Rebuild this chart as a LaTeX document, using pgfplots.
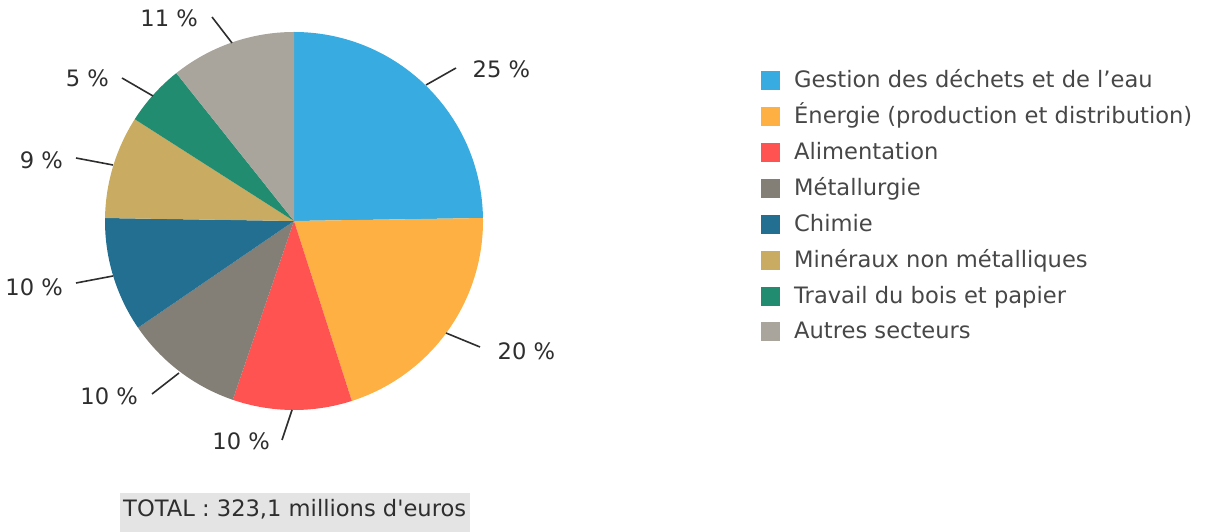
\documentclass[border=0pt]{standalone}
\usepackage{fontspec}
\newfontfamily\dv{DejaVu Sans}
\usepackage{pgfplots}
\pgfplotsset{compat=1.18}
\usepackage{pgfplotstable}

\definecolor{cA}{HTML}{38ABE0}
\definecolor{cB}{HTML}{FFB043}
\definecolor{cC}{HTML}{FF5352}
\definecolor{cD}{HTML}{847F76}
\definecolor{cE}{HTML}{226F92}
\definecolor{cF}{HTML}{C9AC62}
\definecolor{cG}{HTML}{218C70}
\definecolor{cH}{HTML}{A9A49C}
\definecolor{txt}{HTML}{2E2E2E}
\definecolor{legtxt}{HTML}{474747}
\definecolor{totalbg}{HTML}{E4E4E4}

\newcommand\lbl{\dv\fontsize{22.6}{27}\selectfont}

% share of each sector (percent), clockwise from the top
\pgfplotstableread[col sep=semicolon]{
val;col;name
24.75;cA;Gestion des déchets et de l’eau
20.3;cB;Énergie (production et distribution)
10.2;cC;Alimentation
10.2;cD;Métallurgie
9.8;cE;Chimie
8.8;cF;Minéraux non métalliques
5.25;cG;Travail du bois et papier
10.7;cH;Autres secteurs
}\pietable

\begin{document}
\begin{tikzpicture}
\begin{axis}[
    width=1209pt, height=532pt, scale only axis,
    xmin=0, xmax=1209, ymin=0, ymax=532,
    hide axis, clip=false,
]
\path (axis cs:0,0) rectangle (axis cs:1209,532);

% slices + legend
\def\angA{90}
\pgfplotstablegetrowsof{\pietable}
\pgfmathtruncatemacro\nlast{\pgfplotsretval-1}
\pgfplotsforeachungrouped \i in {0,...,\nlast}{%
  \pgfplotstablegetelem{\i}{val}\of\pietable \let\slval\pgfplotsretval
  \pgfplotstablegetelem{\i}{col}\of\pietable \let\slcol\pgfplotsretval
  \pgfplotstablegetelem{\i}{name}\of\pietable \let\slname\pgfplotsretval
  \pgfmathsetmacro\angB{\angA-3.6*\slval}
  \pgfmathsetmacro\ly{451-35.85*\i}
  \pgfmathsetmacro\lyA{\ly-9.5}
  \pgfmathsetmacro\lyB{\ly+9.5}
  \pgfmathsetmacro\lb{\ly-7}
  \edef\temp{%
    \noexpand\fill[\slcol] (axis cs:294,311) -- ++(\angA:189pt)
      arc[start angle=\angA, end angle=\angB, radius=189pt] -- cycle;
    \noexpand\fill[\slcol] (axis cs:761,\lyA) rectangle (axis cs:780,\lyB);
    \noexpand\node[anchor=base west, inner sep=0pt, text=legtxt, font=\noexpand\lbl]
      at (axis cs:794,\lb) {\slname};
  }%
  \temp
  \global\let\angA\angB
}

% label connectors
\draw[txt, line width=1.6pt] (axis cs:426,447) -- (axis cs:456,464);
\draw[txt, line width=1.6pt] (axis cs:446,199) -- (axis cs:480,185);
\draw[txt, line width=1.6pt] (axis cs:292,122) -- (axis cs:282,92);
\draw[txt, line width=1.6pt] (axis cs:179,159) -- (axis cs:152,138);
\draw[txt, line width=1.6pt] (axis cs:113,256) -- (axis cs:76,249);
\draw[txt, line width=1.6pt] (axis cs:113,367) -- (axis cs:76,374);
\draw[txt, line width=1.6pt] (axis cs:153,436) -- (axis cs:122,454);
\draw[txt, line width=1.6pt] (axis cs:232,489) -- (axis cs:212,515);

\begin{scope}[every node/.style={inner sep=0pt, text=txt, font=\lbl}]
\node[anchor=base west] at (axis cs:472.5,454) {25 \%};
\node[anchor=base west] at (axis cs:497.5,172) {20 \%};
\node[anchor=base east] at (axis cs:270,82) {10 \%};
\node[anchor=base east] at (axis cs:138,127) {10 \%};
\node[anchor=base east] at (axis cs:63,236.5) {10 \%};
\node[anchor=base east] at (axis cs:63,363) {9 \%};
\node[anchor=base east] at (axis cs:109,445) {5 \%};
\node[anchor=base east] at (axis cs:198,505) {11 \%};
\end{scope}

% total
\fill[totalbg] (axis cs:120,0) rectangle (axis cs:470,39);
\node[anchor=base west, inner sep=0pt, text=txt, font=\lbl] at (axis cs:123,15.7) {TOTAL : 323,1 millions d'euros};
\end{axis}
\end{tikzpicture}
\end{document}
